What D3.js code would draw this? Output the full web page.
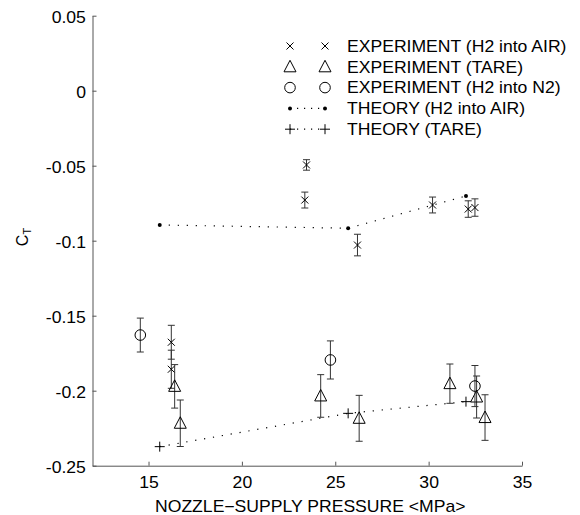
<!DOCTYPE html>
<html>
<head>
<meta charset="utf-8">
<script src="https://cdn.jsdelivr.net/npm/d3@7"></script>
<style>
    html, body { margin: 0; padding: 0; background: #ffffff; }
    #chart { width: 580px; height: 515px; }
    text { font-family: "Liberation Sans", Arial, Helvetica, sans-serif; fill: #000; }
</style>
</head>
<body>
<div id="chart"></div>
<script>
(function () {
    'use strict';

    // experiment, H2 into air (x markers)
    const expAirX = [23.46, 23.37, 26.19, 30.21, 32.12, 32.48, 16.22, 16.22];
    const expAirY = [-0.0495, -0.0729, -0.1029, -0.0762, -0.0789, -0.0779, -0.1677, -0.1857];
    const expAirErr = [0.0035, 0.0053, 0.0072, 0.0053, 0.0055, 0.0058, 0.0113, 0.0127];

    // experiment, tare (triangles)
    const expTareX = [16.40, 16.70, 24.22, 26.28, 31.14, 32.57, 33.02];
    const expTareY = [-0.1971, -0.2217, -0.2035, -0.2184, -0.1953, -0.2042, -0.2179];
    const expTareErr = [0.0145, 0.0155, 0.0142, 0.0153, 0.0131, 0.0140, 0.0152];

    // experiment, H2 into N2 (circles)
    const expN2X = [14.56, 24.74, 32.48];
    const expN2Y = [-0.1629, -0.1795, -0.1969];
    const expN2Err = [0.0113, 0.0127, 0.0137];

    // theory
    const thAirX = [15.6, 25.69, 32.0];
    const thAirY = [-0.0895, -0.0917, -0.0702];
    const thTareX = [15.6, 25.69, 32.0];
    const thTareY = [-0.2373, -0.2151, -0.2073];

    const xTicks = [15, 20, 25, 30, 35];
    const xTickLabels = ["15", "20", "25", "30", "35"];
    const yTicks = [0.05, 0, -0.05, -0.1, -0.15, -0.2, -0.25];
    const yTickLabels = ["0.05", "0", "-0.05", "-0.1", "-0.15", "-0.2", "-0.25"];

    const legendLabels = [
        "EXPERIMENT (H2 into AIR)",
        "EXPERIMENT (TARE)",
        "EXPERIMENT (H2 into N2)",
        "THEORY (H2 into AIR)",
        "THEORY (TARE)"
    ];

    const width = 580;
    const height = 515;
    const fs = 16;
    const stretch = 1.1;   // the source text is a bit wide

    const svg = d3.select("#chart")
        .append("svg")
        .attr("width", width)
        .attr("height", height);

    const x = d3.scaleLinear().domain([12, 35]).range([92.5, 522]);
    const y = d3.scaleLinear().domain([-0.25, 0.05]).range([465.7, 15.7]);

    // axes, ticks point inward
    const xAxis = d3.axisBottom(x)
        .tickValues(xTicks)
        .tickFormat((d, i) => xTickLabels[i])
        .tickSizeInner(-4)
        .tickSizeOuter(0)
        .tickPadding(11);

    const yAxis = d3.axisLeft(y)
        .tickValues(yTicks)
        .tickFormat((d, i) => yTickLabels[i])
        .tickSizeInner(-4)
        .tickSizeOuter(0)
        .tickPadding(6);

    const gx = svg.append("g")
        .attr("transform", `translate(0,${y(-0.25)})`)
        .call(xAxis);

    const gy = svg.append("g")
        .attr("transform", `translate(${x(12)},0)`)
        .call(yAxis);

    [gx, gy].forEach(g => {
        g.select(".domain").attr("stroke", "#555");
        g.selectAll(".tick line").attr("stroke", "#555");
        g.selectAll(".tick text")
            .attr("font-size", fs)
            .attr("font-family", null)
            .attr("fill", "#000")
            .attr("transform", `scale(${stretch},1)`);
    });
    gy.selectAll(".tick text").attr("dy", "0.4em");

    svg.append("text")
        .attr("transform", `translate(${(x(12) + x(35)) / 2 + 3},512) scale(${stretch},1)`)
        .attr("text-anchor", "middle")
        .attr("font-size", fs)
        .text("NOZZLE\u2212SUPPLY PRESSURE <MPa>");

    const yLab = svg.append("text")
        .attr("transform", `translate(28,237) rotate(-90)`)
        .attr("text-anchor", "middle")
        .attr("font-size", fs);
    yLab.append("tspan").text("C");
    yLab.append("tspan").attr("font-size", 11).attr("dy", 3).text("T");

    // marker shapes
    const markers = {
        cross: g => g.append("path").attr("d", "M-3.5,-3.5L3.5,3.5M-3.5,3.5L3.5,-3.5")
            .attr("stroke", "#000").attr("fill", "none"),
        tri: g => g.append("path").attr("d", "M0,-6.5L6,5L-6,5Z")
            .attr("stroke", "#000").attr("fill", "none"),
        circ: g => g.append("circle").attr("r", 5.3)
            .attr("stroke", "#000").attr("fill", "none"),
        dot: g => g.append("circle").attr("r", 2).attr("fill", "#000"),
        plus: g => g.append("path").attr("d", "M-5,0H5M0,-5V5")
            .attr("stroke", "#000").attr("fill", "none")
    };

    function errSeries(xs, ys, es, shape) {
        const pts = xs.map((d, i) => ({ x: d, y: ys[i], e: es[i] }));
        const g = svg.append("g");
        const bars = g.selectAll("g.eb")
            .data(pts)
            .enter()
            .append("g")
            .attr("class", "eb")
            .attr("stroke", "#333")
            .attr("stroke-width", 1);
        bars.append("line")
            .attr("x1", d => x(d.x)).attr("x2", d => x(d.x))
            .attr("y1", d => y(d.y - d.e)).attr("y2", d => y(d.y + d.e));
        bars.append("line")
            .attr("x1", d => x(d.x) - 3.5).attr("x2", d => x(d.x) + 3.5)
            .attr("y1", d => y(d.y + d.e)).attr("y2", d => y(d.y + d.e));
        bars.append("line")
            .attr("x1", d => x(d.x) - 3.5).attr("x2", d => x(d.x) + 3.5)
            .attr("y1", d => y(d.y - d.e)).attr("y2", d => y(d.y - d.e));
        g.selectAll("g.mk")
            .data(pts)
            .enter()
            .append("g")
            .attr("class", "mk")
            .attr("transform", d => `translate(${x(d.x)},${y(d.y)})`)
            .each(function () { markers[shape](d3.select(this)); });
    }

    function theorySeries(xs, ys, shape) {
        const pts = xs.map((d, i) => ({ x: d, y: ys[i] }));
        svg.append("path")
            .datum(pts)
            .attr("fill", "none")
            .attr("stroke", "#000")
            .attr("stroke-width", 1.2)
            .attr("stroke-dasharray", "1.2,7.8")
            .attr("d", d3.line().x(d => x(d.x)).y(d => y(d.y)));
        svg.append("g").selectAll("g")
            .data(pts)
            .enter()
            .append("g")
            .attr("transform", d => `translate(${x(d.x)},${y(d.y)})`)
            .each(function () { markers[shape](d3.select(this)); });
    }

    theorySeries(thAirX, thAirY, "dot");
    theorySeries(thTareX, thTareY, "plus");
    errSeries(expAirX, expAirY, expAirErr, "cross");
    errSeries(expTareX, expTareY, expTareErr, "tri");
    errSeries(expN2X, expN2Y, expN2Err, "circ");

    // legend
    const legendShapes = ["cross", "tri", "circ", "dot", "plus"];
    const legend = svg.append("g");
    legendLabels.forEach((lbl, i) => {
        const ly = 46 + i * 20.8;
        const row = legend.append("g");
        if (i >= 3) {
            row.append("line")
                .attr("x1", 290).attr("x2", 325)
                .attr("y1", ly).attr("y2", ly)
                .attr("stroke", "#000")
                .attr("stroke-width", 1.2)
                .attr("stroke-dasharray", "1.2,5.8");
        }
        [290, 325].forEach(px => {
            const mg = row.append("g").attr("transform", `translate(${px},${ly})`);
            markers[legendShapes[i]](mg);
        });
        row.append("text")
            .attr("transform", `translate(347,${ly}) scale(${stretch},1)`)
            .attr("dy", "0.36em")
            .attr("font-size", fs)
            .text(lbl);
    });

})();
</script>
</body>
</html>
